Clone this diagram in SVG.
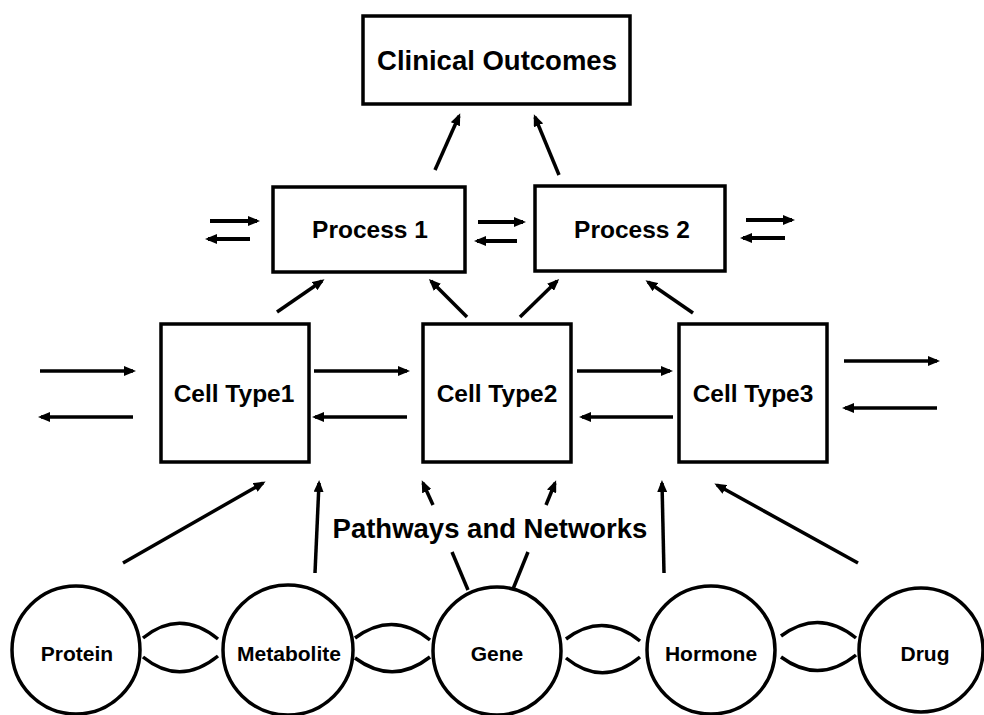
<svg xmlns="http://www.w3.org/2000/svg" width="984" height="715" viewBox="0 0 984 715">
<style>
.box{fill:#fff;stroke:#000;stroke-width:3.5}
.lbl{font-family:"Liberation Sans",Arial,sans-serif;font-weight:bold;fill:#000;text-anchor:middle}
.ar{stroke:#000;stroke-width:3.5;fill:none;marker-end:url(#ah)}
.ar4{stroke:#000;stroke-width:4;fill:none;marker-end:url(#ah)}
.ln{stroke:#000;stroke-width:3.5;fill:none}
</style>
<defs>
<marker id="ah" viewBox="0 0 12 10" refX="9" refY="5" markerWidth="12" markerHeight="10" markerUnits="userSpaceOnUse" orient="auto">
<path d="M0,0 L12,5 L0,10 z" fill="#000"/>
</marker>
</defs>
<rect width="984" height="715" fill="#fff"/>
<g id="connectors">
<line class="ar" x1="435" y1="170" x2="459" y2="116"/>
<line class="ar" x1="559" y1="175" x2="535" y2="117"/>
<line class="ar4" x1="210" y1="221" x2="257" y2="221"/>
<line class="ar4" x1="250" y1="239" x2="208" y2="239"/>
<line class="ar4" x1="478" y1="222" x2="523" y2="222"/>
<line class="ar4" x1="517" y1="241" x2="477" y2="241"/>
<line class="ar4" x1="746" y1="220" x2="792" y2="220"/>
<line class="ar4" x1="785" y1="238" x2="743" y2="238"/>
<line class="ar" x1="277" y1="312" x2="322" y2="281"/>
<line class="ar" x1="467" y1="317" x2="431" y2="281"/>
<line class="ar" x1="520" y1="317" x2="557" y2="281"/>
<line class="ar" x1="693" y1="313" x2="648" y2="282"/>
<line class="ar" x1="40" y1="371" x2="133" y2="371"/>
<line class="ar" x1="133" y1="417" x2="41" y2="417"/>
<line class="ar" x1="314" y1="371" x2="407" y2="371"/>
<line class="ar" x1="407" y1="417" x2="315" y2="417"/>
<line class="ar" x1="577" y1="371" x2="670" y2="371"/>
<line class="ar" x1="673" y1="417" x2="582" y2="417"/>
<line class="ar" x1="844" y1="361" x2="937" y2="361"/>
<line class="ar" x1="937" y1="408" x2="845" y2="408"/>
<line class="ar" x1="123" y1="563" x2="263" y2="483"/>
<line class="ar" x1="315" y1="573" x2="319" y2="483"/>
<line class="ln" x1="468" y1="590" x2="452" y2="552"/>
<line class="ar" x1="433" y1="505" x2="423" y2="483"/>
<line class="ln" x1="513" y1="589" x2="528" y2="552"/>
<line class="ar" x1="546" y1="505" x2="555" y2="483"/>
<line class="ar" x1="664" y1="573" x2="662" y2="483"/>
<line class="ar" x1="858" y1="563" x2="717" y2="485"/>
<path class="ln" d="M143,638 Q180,608 218,639"/>
<path class="ln" d="M143,657 Q180,687 218,656"/>
<path class="ln" d="M355,638 Q393,610 430,640"/>
<path class="ln" d="M355,658 Q393,686 430,657"/>
<path class="ln" d="M566,639 Q603,611 640,641"/>
<path class="ln" d="M566,658 Q603,688 640,657"/>
<path class="ln" d="M781,636 Q819,608 856,638"/>
<path class="ln" d="M781,657 Q819,685 856,655"/>
</g>
<g id="clinical-outcomes">
<rect class="box" x="363" y="16" width="267" height="88"/>
<text class="lbl" x="497" y="70" font-size="27.5">Clinical Outcomes</text>
</g>
<g id="process-1">
<rect class="box" x="273" y="187" width="192" height="85"/>
<text class="lbl" x="370" y="238" font-size="24.5">Process 1</text>
</g>
<g id="process-2">
<rect class="box" x="535" y="186" width="190" height="85"/>
<text class="lbl" x="632" y="238" font-size="24.5">Process 2</text>
</g>
<g id="cell-type-1">
<rect class="box" x="161" y="324" width="148" height="138"/>
<text class="lbl" x="234" y="402" font-size="24.5">Cell Type1</text>
</g>
<g id="cell-type-2">
<rect class="box" x="423" y="324" width="148" height="138"/>
<text class="lbl" x="497" y="402" font-size="24.5">Cell Type2</text>
</g>
<g id="cell-type-3">
<rect class="box" x="679" y="324" width="148" height="138"/>
<text class="lbl" x="753" y="402" font-size="24.5">Cell Type3</text>
</g>
<g id="pathways-label">
<text class="lbl" x="490" y="538" font-size="27.5">Pathways and Networks</text>
</g>
<g id="protein">
<circle class="box" cx="76" cy="650" r="64"/>
<text class="lbl" x="77" y="661" font-size="21">Protein</text>
</g>
<g id="metabolite">
<circle class="box" cx="288" cy="650" r="65"/>
<text class="lbl" x="289" y="661" font-size="21">Metabolite</text>
</g>
<g id="gene">
<circle class="box" cx="497" cy="651" r="64"/>
<text class="lbl" x="497" y="661" font-size="21">Gene</text>
</g>
<g id="hormone">
<circle class="box" cx="711" cy="650" r="64"/>
<text class="lbl" x="711" y="661" font-size="21">Hormone</text>
</g>
<g id="drug">
<circle class="box" cx="921" cy="650" r="62"/>
<text class="lbl" x="925" y="661" font-size="21">Drug</text>
</g>
</svg>
